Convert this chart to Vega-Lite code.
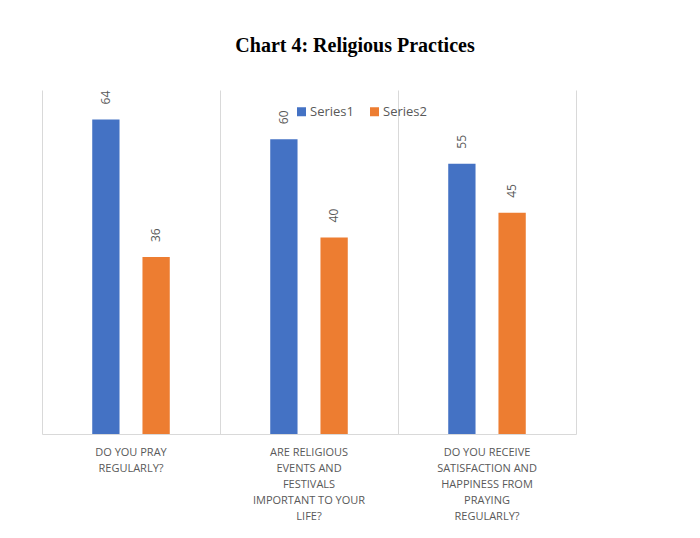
{
  "$schema": "https://vega.github.io/schema/vega-lite/v6.json",
  "width": 534,
  "height": 344,
  "autosize": "none",
  "padding": {"left": 42, "top": 90, "right": 124, "bottom": 104},
  "background": "white",
  "title": {
    "text": "Chart 4: Religious Practices",
    "font": "Liberation Serif",
    "fontSize": 20,
    "fontWeight": "bold",
    "color": "#000000",
    "anchor": "middle",
    "baseline": "alphabetic",
    "dx": 46,
    "offset": 18
  },
  "data": {
    "values": [
      {"q": "DO YOU PRAY REGULARLY?", "series": "Series1", "value": 64},
      {"q": "DO YOU PRAY REGULARLY?", "series": "Series2", "value": 36},
      {"q": "ARE RELIGIOUS EVENTS AND FESTIVALS IMPORTANT TO YOUR LIFE?", "series": "Series1", "value": 60},
      {"q": "ARE RELIGIOUS EVENTS AND FESTIVALS IMPORTANT TO YOUR LIFE?", "series": "Series2", "value": 40},
      {"q": "DO YOU RECEIVE SATISFACTION AND HAPPINESS FROM PRAYING REGULARLY?", "series": "Series1", "value": 55},
      {"q": "DO YOU RECEIVE SATISFACTION AND HAPPINESS FROM PRAYING REGULARLY?", "series": "Series2", "value": 45}
    ]
  },
  "encoding": {
    "x": {
      "field": "q",
      "type": "nominal",
      "sort": null,
      "scale": {"paddingInner": 0, "paddingOuter": 0},
      "axis": {
        "title": null,
        "labelAngle": 0,
        "ticks": false,
        "domain": true,
        "domainColor": "#d9d9d9",
        "grid": true,
        "gridColor": "#d9d9d9",
        "bandPosition": 0,
        "labelAlign": "center",
        "labelBaseline": "top",
        "labelColor": "#595959",
        "labelFont": "Open Sans",
        "labelFontSize": 11,
        "labelLineHeight": 16,
        "labelPadding": 12,
        "labelLimit": 300,
        "labelExpr": "datum.value == 'DO YOU PRAY REGULARLY?' ? ['DO YOU PRAY','REGULARLY?'] : datum.value == 'ARE RELIGIOUS EVENTS AND FESTIVALS IMPORTANT TO YOUR LIFE?' ? ['ARE RELIGIOUS','EVENTS AND','FESTIVALS','IMPORTANT TO YOUR','LIFE?'] : ['DO YOU RECEIVE','SATISFACTION AND','HAPPINESS  FROM','PRAYING','REGULARLY?']"
      }
    },
    "xOffset": {
      "field": "series",
      "type": "nominal",
      "scale": {"paddingInner": 0.4565, "paddingOuter": 1.163}
    },
    "y": {
      "field": "value",
      "type": "quantitative",
      "scale": {"domain": [0, 70], "nice": false},
      "axis": {
        "orient": "right",
        "title": null,
        "labels": false,
        "ticks": false,
        "grid": false,
        "domain": true,
        "domainColor": "#d9d9d9"
      }
    }
  },
  "layer": [
    {
      "mark": {"type": "bar"},
      "encoding": {
        "color": {
          "field": "series",
          "type": "nominal",
          "scale": {"domain": ["Series1", "Series2"], "range": ["#4472C4", "#ED7D31"]},
          "legend": {
            "title": null,
            "orient": "none",
            "direction": "horizontal",
            "legendX": 253,
            "legendY": 15,
            "symbolType": "square",
            "symbolSize": 81,
            "symbolStrokeWidth": 0,
            "labelFont": "Open Sans",
            "labelFontSize": 13,
            "labelColor": "#595959",
            "labelOffset": 2,
            "columnPadding": 14
          }
        }
      }
    },
    {
      "mark": {
        "type": "text",
        "angle": 270,
        "align": "left",
        "baseline": "middle",
        "dx": 15,
        "font": "Open Sans",
        "fontSize": 12,
        "color": "#595959"
      },
      "encoding": {
        "text": {"field": "value", "type": "quantitative"}
      }
    }
  ],
  "config": {
    "view": {"stroke": null}
  }
}
